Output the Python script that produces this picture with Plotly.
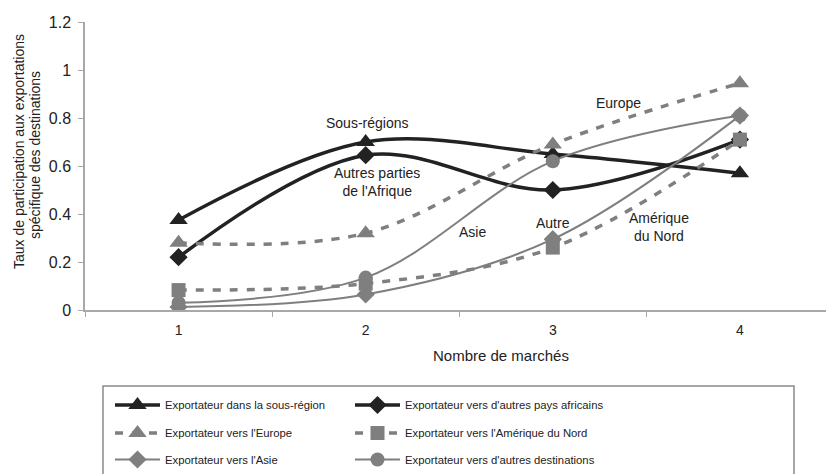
import plotly.graph_objects as go

categories = ["1", "2", "3", "4"]
names = [
    "Exportateur dans la sous-région",
    "Exportateur vers d'autres pays africains",
    "Exportateur vers l'Europe",
    "Exportateur vers l'Amérique du Nord",
    "Exportateur vers l'Asie",
    "Exportateur vers d'autres destinations",
]
sous_region = [0.375, 0.70, 0.65, 0.57]
autres_afrique = [0.22, 0.645, 0.50, 0.71]
europe = [0.28, 0.32, 0.69, 0.945]
amerique_nord = [0.083, 0.11, 0.26, 0.71]
asie = [0.013, 0.065, 0.295, 0.81]
autres_dest = [0.03, 0.135, 0.62, 0.81]

DARK = "#222222"
GRAY = "#7f7f7f"
FONT = "Liberation Sans"

W, H = 826, 474
L, R, T, B = 85, 0, 22, 164
PW, PH = W - L - R, H - T - B


def px(x):
    return (x - L) / PW


def py(y):
    return (H - B - y) / PH


styles = [
    (sous_region, DARK, 3.5, "solid", "triangle-up", 16),
    (autres_afrique, DARK, 3.5, "solid", "diamond", 14),
    (europe, GRAY, 3.5, "8px,9px", "triangle-up", 16),
    (amerique_nord, GRAY, 3.5, "8px,9px", "square", 14),
    (asie, GRAY, 2, "solid", "diamond", 14),
    (autres_dest, GRAY, 2, "solid", "circle", 14),
]
legend_ids = ["legend", "legend2", "legend3", "legend4", "legend5", "legend6"]
legend_pos = [(110, 405), (350, 405), (110, 433), (350, 433), (110, 460), (350, 460)]

fig = go.Figure()
for name, (vals, col, lw, dash, sym, ms), leg in zip(names, styles, legend_ids):
    fig.add_trace(go.Scatter(
        x=categories, y=vals, name=name, mode="lines+markers",
        line=dict(color=col, width=lw, dash=dash, shape="spline", smoothing=1.0),
        marker=dict(symbol=sym, size=ms, color=col),
        legend=leg, showlegend=True,
    ))

leg_common = dict(orientation="h", xanchor="left", yanchor="middle",
                  font=dict(family=FONT, size=11.3, color="#222"),
                  bgcolor="rgba(0,0,0,0)", itemwidth=45)
legends = {lid: dict(x=px(lx), y=py(ly), **leg_common)
           for lid, (lx, ly) in zip(legend_ids, legend_pos)}

fig.update_layout(
    width=W, height=H,
    showlegend=True,
    margin=dict(l=L, r=R, t=T, b=B),
    paper_bgcolor="white", plot_bgcolor="white",
    font=dict(family=FONT, color="#222"),
    xaxis=dict(type="category", range=[-0.5, 3.46], tickson="boundaries",
               ticks="outside", ticklen=5, tickcolor="#a8a8a8",
               showline=True, linecolor="#a8a8a8", linewidth=1.5,
               showgrid=False, zeroline=False,
               tickfont=dict(size=14, color="#222"), ticklabelstandoff=6),
    yaxis=dict(range=[0, 1.2], dtick=0.2, ticks="outside", ticklen=5,
               tickcolor="#a8a8a8", showline=True, linecolor="#a8a8a8",
               linewidth=1.5, showgrid=False, zeroline=False,
               tickfont=dict(size=16, color="#222"), ticklabelstandoff=4),
    shapes=[dict(type="rect", xref="paper", yref="paper",
                 x0=px(103), x1=px(794), y0=py(386), y1=py(476),
                 line=dict(color="#8a8a8a", width=1.5), fillcolor="rgba(0,0,0,0)")],
    **legends,
)

annots = [
    ("Sous-régions", 1.01, 0.78),
    ("Autres parties<br>de l'Afrique", 1.06, 0.535),
    ("Europe", 2.35, 0.862),
    ("Asie", 1.57, 0.325),
    ("Autre", 2.0, 0.363),
    ("Amérique<br>du Nord", 2.57, 0.346),
]
for txt, ax, ay in annots:
    fig.add_annotation(x=ax, y=ay, xref="x", yref="y", text=txt, showarrow=False,
                       xanchor="center", yanchor="middle",
                       font=dict(size=14, color="#222"))

fig.add_annotation(x=px(501), y=py(355), xref="paper", yref="paper",
                   text="Nombre de marchés", showarrow=False,
                   xanchor="center", yanchor="middle",
                   font=dict(size=15, color="#222"))
fig.add_annotation(x=px(19), y=py(152), xref="paper", yref="paper",
                   text="Taux de participation aux exportations", textangle=-90,
                   xanchor="center", yanchor="middle",
                   showarrow=False, font=dict(size=14, color="#222"))
fig.add_annotation(x=px(35), y=py(155), xref="paper", yref="paper",
                   text="spécifique des destinations", textangle=-90,
                   xanchor="center", yanchor="middle",
                   showarrow=False, font=dict(size=14, color="#222"))

fig.write_html("out.html")
